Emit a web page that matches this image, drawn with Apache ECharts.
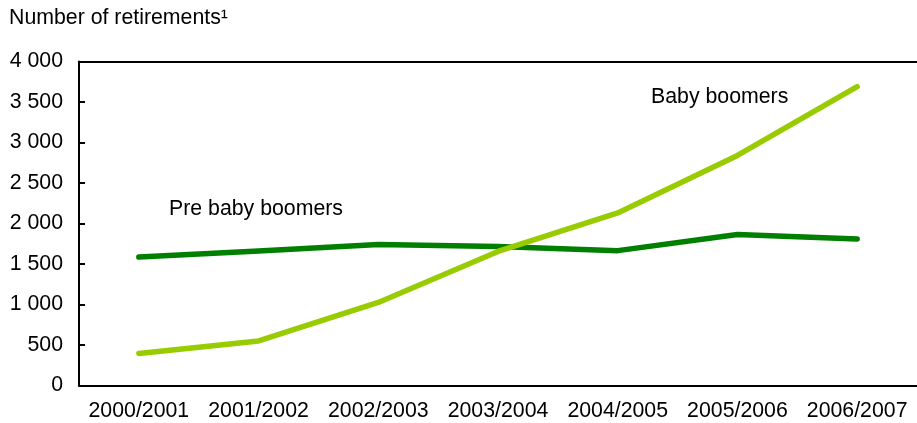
<!DOCTYPE html>
<html>
<head>
<meta charset="utf-8">
<script src="https://cdn.jsdelivr.net/npm/echarts@6/dist/echarts.min.js"></script>
<style>
html,body{margin:0;padding:0;background:#fff;}
#c{width:917px;height:423px;}
</style>
</head>
<body>
<div id="c"></div>
<script>
const categories = ['2000/2001','2001/2002','2002/2003','2003/2004','2004/2005','2005/2006','2006/2007'];
const preBabyBoomers = [1585, 1660, 1740, 1715, 1665, 1865, 1810];
const babyBoomers = [395, 550, 1025, 1655, 2130, 2840, 3690];
const yTicks = [0, 500, 1000, 1500, 2000, 2500, 3000, 3500, 4000];
const yTitle = 'Number of retirements\u00b9';
const seriesNames = ['Pre baby boomers', 'Baby boomers'];

const FONT = '"Liberation Sans", Arial, sans-serif';
const FS = 21.3;
const fmt = v => String(v).replace(/\B(?=(\d{3})+(?!\d))/g, ' ');

const chart = echarts.init(document.getElementById('c'), null, {renderer: 'canvas'});
chart.setOption({
  animation: false,
  backgroundColor: '#fff',
  textStyle: {fontFamily: FONT},
  grid: {left: 79, right: -6, top: 61.5, bottom: 37.5, containLabel: false},
  xAxis: [{
    type: 'category',
    data: categories,
    boundaryGap: true,
    axisLine: {lineStyle: {color: '#000', width: 2}},
    axisTick: {inside: true, length: 7, lineStyle: {color: '#000', width: 2}},
    axisLabel: {color: '#000', fontSize: FS, fontFamily: FONT, margin: 15, interval: 0}
  }, {
    type: 'category',
    data: categories,
    position: 'top',
    axisLine: {show: true, onZero: false, lineStyle: {color: '#000', width: 2}},
    axisTick: {show: false},
    axisLabel: {show: false}
  }],
  yAxis: {
    type: 'value',
    min: yTicks[0],
    max: yTicks[yTicks.length - 1],
    interval: 500,
    axisLine: {show: true, lineStyle: {color: '#000', width: 2}},
    axisTick: {show: true, inside: true, length: 6, lineStyle: {color: '#000', width: 2}},
    splitLine: {show: false},
    axisLabel: {color: '#000', fontSize: FS, fontFamily: FONT, margin: 16, formatter: v => fmt(v)}
  },
  graphic: [
    {type: 'text', left: 9, top: 8, style: {text: yTitle, fill: '#000', font: FS + 'px ' + FONT}},
    {type: 'text', left: 169, top: 199, style: {text: seriesNames[0], fill: '#000', font: FS + 'px ' + FONT}},
    {type: 'text', left: 651, top: 87, style: {text: seriesNames[1], fill: '#000', font: FS + 'px ' + FONT}}
  ],
  series: [{
    name: seriesNames[0],
    type: 'line',
    data: preBabyBoomers,
    symbol: 'none',
    lineStyle: {color: '#007f00', width: 5.5, cap: 'round', join: 'round'}
  }, {
    name: seriesNames[1],
    type: 'line',
    data: babyBoomers,
    symbol: 'none',
    lineStyle: {color: '#99cc00', width: 5.5, cap: 'round', join: 'round'}
  }]
});
</script>
</body>
</html>
